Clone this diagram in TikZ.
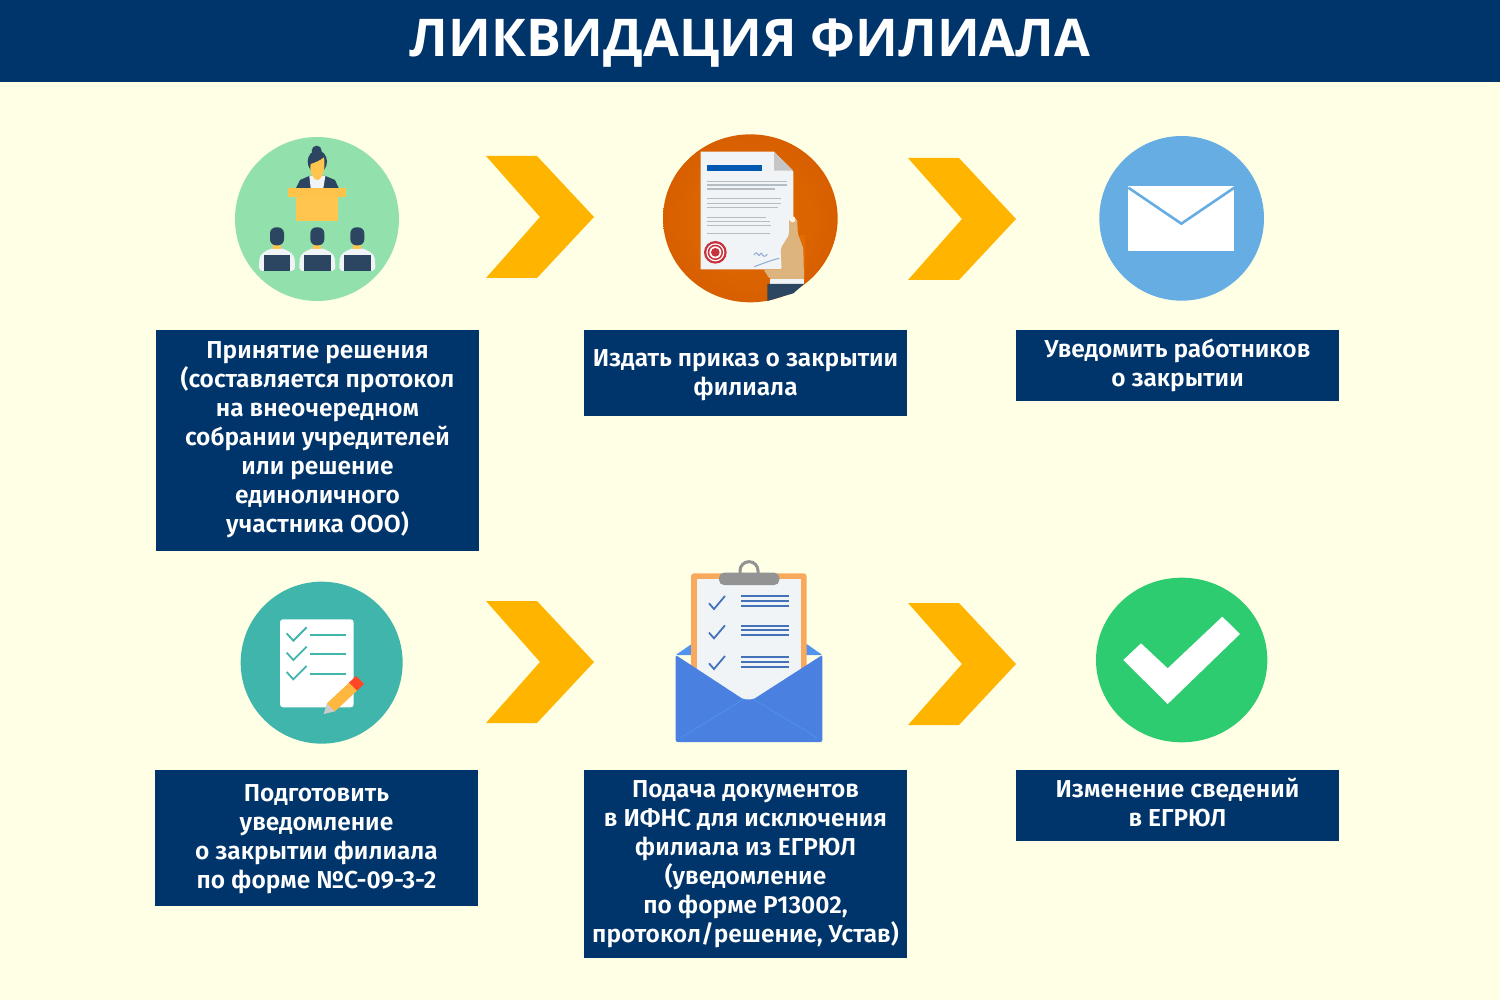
\documentclass[tikz,border=0pt]{standalone}
\usepackage{fontspec}
\setmainfont{Fira Sans}[BoldFont={Fira Sans SemiBold}]
\newfontfamily\titlefont{Open Sans}
\definecolor{navy}{HTML}{00356B}
\definecolor{bgc}{HTML}{FFFFE6}
\definecolor{chev}{HTML}{FFB400}
\definecolor{dk}{HTML}{2C4560}
\definecolor{ylw}{HTML}{FFC54F}
\definecolor{mintc}{HTML}{92E0AC}
\definecolor{orangec}{HTML}{D85F00}
\definecolor{orangei}{HTML}{E26C00}
\definecolor{skyc}{HTML}{65ADE3}
\definecolor{tealc}{HTML}{3FB5AB}
\definecolor{greenc}{HTML}{2ECC71}
\definecolor{envc}{HTML}{4A80E0}
\definecolor{envl}{HTML}{5094F0}
\definecolor{linec}{HTML}{4472B8}
\definecolor{graylc}{HTML}{B4BCC4}
\definecolor{tan}{HTML}{DDB47E}
\definecolor{sealc}{HTML}{C8323C}
\definecolor{paperc}{HTML}{F1F4F6}
\definecolor{orangeb}{HTML}{F9A95C}
\tikzset{
 box/.style={fill=navy,draw=none,inner sep=0pt,minimum width=323pt},
 boxtext/.style={text=white,inner sep=0pt,align=center,font=\fontsize{24.5}{29}\selectfont\bfseries},
 chevron/.style={fill=chev,draw=none},
 docline/.style={draw=graylc,line width=1.5pt},
 tealline/.style={draw=tealc,line width=1.8pt},
 blueline/.style={draw=linec,line width=1.8pt},
}
\newcommand{\chevr}[2]{\fill[chevron,shift={(#1,#2)}] (0,-61)--(51,-61)--(108,0)--(51,61)--(0,61)--(54,0)--cycle;}
\begin{document}
\begin{tikzpicture}[x=1pt,y=-1pt]
\useasboundingbox (0,0) rectangle (1500,1000);
\fill[bgc] (0,0) rectangle (1500,1000);
\fill[navy] (0,0) rectangle (1500,82);
\node[text=white,font=\titlefont\bfseries\fontsize{52}{60}\selectfont,inner sep=0pt] (title) at (750,43) {ЛИКВИДАЦИЯ ФИЛИАЛА};

\chevr{486}{217}\chevr{908}{219}\chevr{486}{662}\chevr{908}{664}

\node[box,minimum height=221pt] (b1) at (317.5,440.5) {};
\node[boxtext] (t1) at ([yshift=1pt]b1.center) {Принятие решения\\(составляется протокол\\на внеочередном\\собрании учредителей\\или решение\\единоличного\\участника ООО)};
\node[box,minimum height=86pt] (b2) at (745.5,373) {};
\node[boxtext] (t2) at ([yshift=-2pt]b2.center) {Издать приказ о закрытии\\филиала};
\node[box,minimum height=71pt] (b3) at (1177.5,365.5) {};
\node[boxtext] (t3) at (b3.center) {Уведомить работников\\о закрытии};
\node[box,minimum height=136pt] (b4) at (316.5,838) {};
\node[boxtext] (t4) at ([yshift=-1pt]b4.center) {Подготовить\\уведомление\\о закрытии филиала\\по форме №С-09-3-2};
\node[box,minimum height=188pt] (b5) at (745.5,864) {};
\node[boxtext] (t5) at (b5.center) {Подача документов\\в ИФНС для исключения\\филиала из ЕГРЮЛ\\(уведомление\\по форме Р13002,\\протокол/решение, Устав)};
\node[box,minimum height=71pt] (b6) at (1177.5,805.5) {};
\node[boxtext] (t6) at ([yshift=3pt]b6.center) {Изменение сведений\\в ЕГРЮЛ};

% icon 1: meeting
\begin{scope}[shift={(220,120)},scale=1/3]
\fill[mintc] (291,297) circle (246);
\fill[dk] (290,92) circle (15);
\fill[dk] (292,125) ellipse (29 and 34);
\fill[dk] (228,204)--(240,180)--(268,168)--(316,168)--(345,180)--(356,204)--cycle;
\fill[paperc] (268,168)--(316,168)--(310,204)--(272,204)--cycle;
\fill[ylw] (272,132) .. controls (285,128) and (300,122) .. (312,112) .. controls (318,150) and (305,180) .. (292,180) .. controls (279,180) and (268,155) .. (272,132) -- cycle;
\fill[ylw!95!orange] (205,203) rectangle (378,232);
\fill[ylw] (228,232) rectangle (355,304);
\foreach \px in {171,292,412}{
 \fill[paperc,rounded corners=4pt] (\px-55,453)--(\px-52,405)--(\px-20,385)--(\px+20,385)--(\px+52,405)--(\px+55,453)--cycle;
 \fill[ylw] (\px-12,370) rectangle (\px+12,386);
 \fill[dk,rounded corners=6pt] (\px-21,322) rectangle (\px+21,376);
 \fill[dk] (\px-40,406) rectangle (\px+40,453);
}
\end{scope}

% icon 2: document
\begin{scope}[shift={(650,120)},scale=1/3]
\shade[inner color=orangei,outer color=orangec] (301,295) ellipse (262 and 252);
\fill[paperc] (152,95)--(372,95)--(430,155)--(430,448)--(152,448)--cycle;
\fill[gray!45] (372,95)--(430,152)--(372,152)--cycle;
\fill[blue!50!cyan!70!black] (170,134) rectangle (335,152);
\foreach \yy/\xe in {184/410,195/410,207/375,235/392,250/392,263/385,292/348,304/360,316/362,340/360}
 \draw[docline] (170,\yy)--(\xe,\yy);
\fill[sealc] (196,397) circle (34);
\fill[white] (196,397) circle (27);
\fill[sealc] (196,397) circle (23);
\fill[white] (196,397) circle (18);
\fill[sealc] (196,397) circle (13);
\draw[linec!60!white,line width=1pt] (312,405) .. controls (325,385) and (322,420) .. (332,400) .. controls (338,395) and (336,420) .. (352,403) (313,440) .. controls (340,430) and (365,420) .. (388,415);
\fill[orangei] (431,345) rectangle (465,480);
\fill[tan,rounded corners=2pt] (417,298)--(442,298)--(443,340)--(460,385)--(462,478)--(360,478)--(340,448)--(395,448)--(392,385)--(417,345)--cycle;
\fill[white!85!tan] (428,298) circle (9);
\fill[paperc] (360,478) rectangle (463,492);
\fill[dk] (352,492)--(462,492)--(430,520)--(352,543)--cycle;
\end{scope}

% icon 3: envelope
\begin{scope}[shift={(1085,125)},scale=1/3]
\fill[skyc] (290,280) circle (247);
\fill[white] (130,183) rectangle (448,378);
\draw[skyc,line width=2.6pt] (130,188)--(289,296)--(448,188);
\end{scope}

% icon 4: checklist
\begin{scope}[shift={(225,570)},scale=1/3]
\fill[tealc] (290,278) circle (243);
\fill[white,rounded corners=3pt] (165,148) rectangle (386,412);
\foreach \dy in {0,58,116}{
 \draw[tealline] (185,190+\dy)--(205,212+\dy)--(245,172+\dy);
 \draw[tealline] (254,195+\dy)--(362,195+\dy);
}
\fill[gray!40] (306,400)--(330,424)--(296,432)--cycle;
\fill[ylw!80!orange] (306,400)--(330,424)--(396,362)--(372,338)--cycle;
\fill[red!70!orange!85!white] (372,338)--(396,362)--(417,342)--(393,318)--cycle;
\end{scope}

% icon 5: envelope with clipboard
\begin{scope}[shift={(660,550)},scale=1/3]
\fill[envl,rounded corners=1pt] (47,315)--(95,282)--(440,282)--(487,315)--cycle;
\fill[orangeb,rounded corners=3pt] (93,70) rectangle (440,400);
\fill[paperc] (110,88) rectangle (423,460);
\draw[gray!85,line width=3pt] (240,80)--(240,62) arc (180:360:27) -- (294,80);
\fill[gray!85,rounded corners=5pt] (177,68) rectangle (358,105);
\foreach \dy/\a/\b/\c in {0/138/153/168,88/227/241/256,180/320/335/350}{
 \draw[blueline] (147,160+\dy)--(162,177+\dy)--(195,138+\dy);
 \draw[blueline] (244,\a)--(387,\a) (244,\b)--(387,\b) (244,\c)--(387,\c);
}
\fill[envc,rounded corners=2pt] (47,315)--(250,448)--(280,448)--(487,315)--(487,576)--(47,576)--cycle;
\draw[envl,line width=0.7pt] (60,565)--(250,448) (280,448)--(475,565);
\end{scope}

% icon 6: check
\begin{scope}[shift={(1085,565)},scale=1/3]
\fill[greenc] (290,285) ellipse (257 and 247);
\fill[white] (115,285)--(168,235)--(248,310)--(412,155)--(465,207)--(248,417)--cycle;
\end{scope}
\end{tikzpicture}
\end{document}
